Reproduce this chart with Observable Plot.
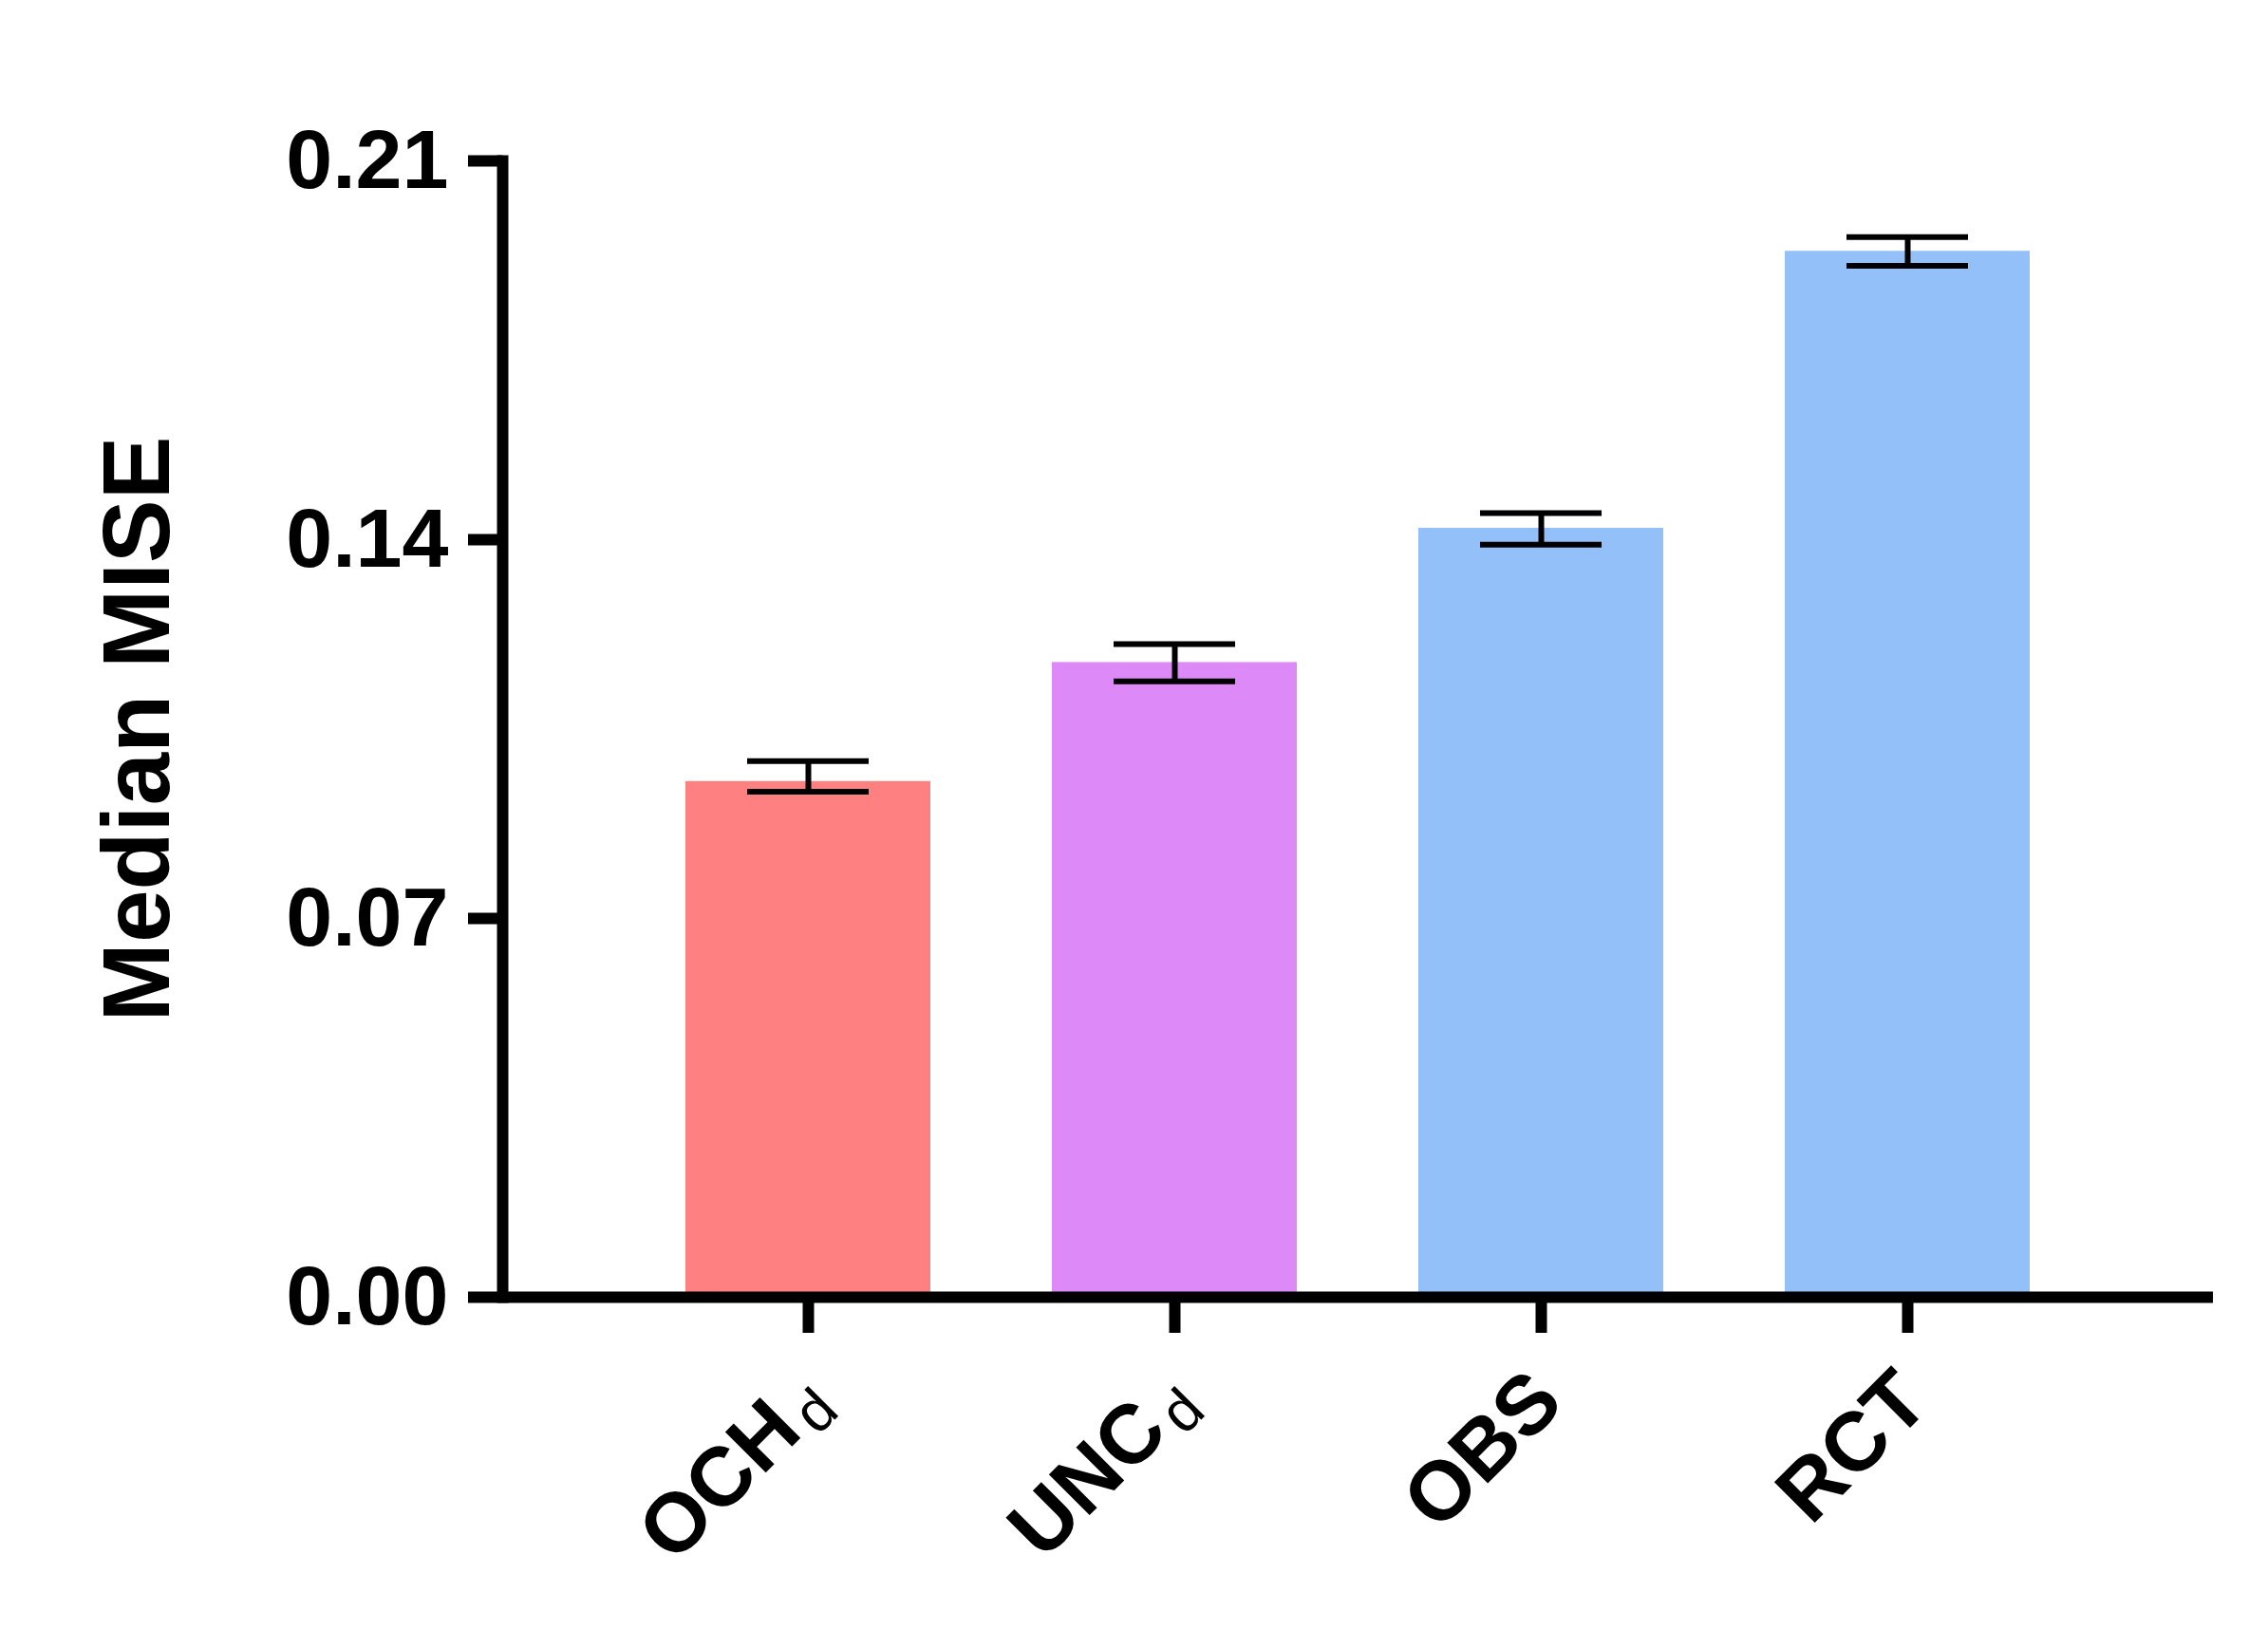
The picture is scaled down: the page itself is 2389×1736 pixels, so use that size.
<!DOCTYPE html>
<html>
<head>
<meta charset="utf-8">
<script src="https://cdn.jsdelivr.net/npm/d3@7"></script>
<script src="https://cdn.jsdelivr.net/npm/@observablehq/plot@0.6"></script>
<style>
  html, body { margin: 0; padding: 0; background: #ffffff; }
</style>
</head>
<body>
<script>
const categories = ["OCH", "UNC", "OBS", "RCT"];
const subscripts = ["d", "d", "", ""];
const medians = [0.0953, 0.1173, 0.1421, 0.1933];
const lower = [0.0934, 0.1138, 0.1391, 0.1906];
const upper = [0.0991, 0.1207, 0.1449, 0.1959];
const barColors = ["#FF8080", "#DD89F7", "#93C0F9", "#93C0F9"];
const yTicks = [0, 0.07, 0.14, 0.21];
const yLabel = "Median MISE";

const data = categories.map((c, i) => ({
  cat: c, median: medians[i], lo: lower[i], hi: upper[i], color: barColors[i]
}));

const FONT = "'Liberation Sans', Arial, Helvetica, sans-serif";

const svg = Plot.plot({
  width: 2389,
  height: 1736,
  marginLeft: 529,
  marginRight: 58,
  marginTop: 169,
  marginBottom: 370,
  style: { fontFamily: FONT, fontSize: "86px", fontWeight: "bold", background: "white", color: "black" },
  x: { domain: categories, paddingInner: 0.332, paddingOuter: 0.5, align: 0.5 },
  y: { domain: [0, 0.21] },
  color: { type: "identity" },
  marks: [
    Plot.barY(data, { x: "cat", y: "median", fill: "color" }),
    Plot.ruleX(data, { x: "cat", y1: "lo", y2: "hi", stroke: "black", strokeWidth: 6 }),
    Plot.tickY(data, { x: "cat", y: "lo", stroke: "black", strokeWidth: 6, insetLeft: 65, insetRight: 65 }),
    Plot.tickY(data, { x: "cat", y: "hi", stroke: "black", strokeWidth: 6, insetLeft: 65, insetRight: 65 }),
    Plot.frame({ anchor: "left", stroke: "black", strokeWidth: 12 }),
    Plot.ruleY([0], { stroke: "black", strokeWidth: 12 }),
    Plot.axisY({ ticks: yTicks, tickFormat: d3.format(".2f"), tickSize: 36, tickPadding: 21,
                 strokeWidth: 12, label: null, fontSize: 88, fontWeight: "bold" }),
    Plot.axisX({ tickSize: 38, strokeWidth: 12, tickFormat: () => "", label: null }),
    Plot.text(categories, { x: d => d, frameAnchor: "bottom", rotate: -45, textAnchor: "end",
                 lineAnchor: "middle", dx: 6, dy: 94, fontSize: 88, fontWeight: "bold" }),
    Plot.text([yLabel], { frameAnchor: "left", rotate: -90, textAnchor: "middle", lineAnchor: "middle",
                 dx: -384, fontSize: 100, fontWeight: "bold" })
  ]
});

// add the small non-bold subscript letters to the category labels
svg.querySelectorAll("text").forEach(t => {
  const i = categories.indexOf(t.textContent);
  if (i >= 0 && subscripts[i] && t.children.length === 0) {
    const ts = document.createElementNS("http://www.w3.org/2000/svg", "tspan");
    ts.setAttribute("font-weight", "normal");
    ts.setAttribute("font-size", "62");
    ts.setAttribute("dx", "8");
    ts.setAttribute("dy", "12");
    ts.textContent = subscripts[i];
    t.appendChild(ts);
  }
});

document.body.appendChild(svg);
</script>
</body>
</html>
